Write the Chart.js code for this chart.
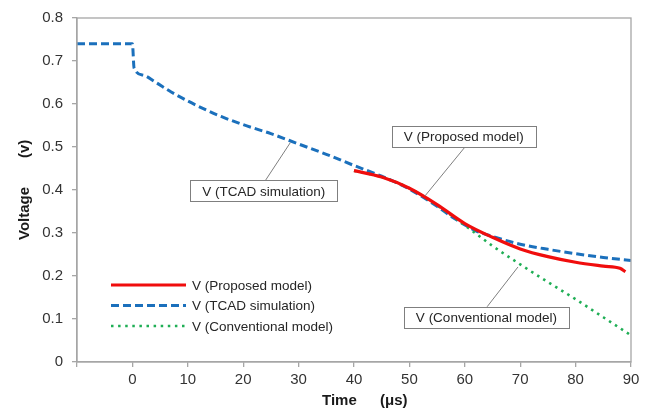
<!DOCTYPE html>
<html>
<head>
<meta charset="utf-8">
<script src="https://cdn.jsdelivr.net/npm/chart.js@4/dist/chart.umd.min.js"></script>
<style>
  html, body { margin: 0; padding: 0; background: #fff; }
  #wrap { width: 656px; height: 412px; }
</style>
</head>
<body>
<div id="wrap"><canvas id="myChart" width="656" height="412"></canvas></div>
<script>
// values
const timeProposed = [40, 45, 50, 55, 60, 65, 70, 75, 80, 85, 88, 89];
const vProposed    = [0.445, 0.430, 0.404, 0.366, 0.322, 0.290, 0.263, 0.245, 0.232, 0.223, 0.218, 0.210];

const timeTcad = [-10, 0, 0.3, 2, 4, 7, 10, 13, 16, 20, 25, 30, 35, 40, 45, 50, 55, 58, 62, 65, 70, 75, 80, 85, 90];
const vTcad    = [0.740, 0.740, 0.684, 0.667, 0.652, 0.628, 0.607, 0.588, 0.571, 0.552, 0.531, 0.507, 0.483, 0.457, 0.432, 0.402, 0.362, 0.335, 0.305, 0.292, 0.274, 0.262, 0.252, 0.243, 0.236];

const timeConv = [40, 45, 50, 55, 60, 65, 70, 75, 80, 85, 90];
const vConv    = [0.445, 0.430, 0.404, 0.364, 0.318, 0.270, 0.227, 0.186, 0.146, 0.104, 0.062];

const xTickValues = [-10, 0, 10, 20, 30, 40, 50, 60, 70, 80, 90];
const xTickLabels = ['', '0', '10', '20', '30', '40', '50', '60', '70', '80', '90'];
const yTickLabels = ['0', '0.1', '0.2', '0.3', '0.4', '0.5', '0.6', '0.7', '0.8'];

const seriesNames = ['V (Proposed model)', 'V (TCAD simulation)', 'V (Conventional model)'];

// callout boxes: centre of box, start and end of leader, in data units
const callouts = [
	{ text: 'V (Proposed model)', cx: 59.8, cy: 0.524, fx: 60.1, fy: 0.501, tx: 52.8, ty: 0.386 },
	{ text: 'V (TCAD simulation)', cx: 23.7, cy: 0.398, fx: 24.0, fy: 0.422, tx: 28.5, ty: 0.510 },
	{ text: 'V (Conventional model)', cx: 63.9, cy: 0.104, fx: 64.0, fy: 0.128, tx: 69.6, ty: 0.221 }
];

const FONT = '"Liberation Sans", Arial, sans-serif';
const axisGray = '#a6a6a6';

function pts(xs, ys) {
	return xs.map((x, i) => ({ x: x, y: ys[i] }));
}

const extras = {
	id: 'extras',
	afterDatasetsDraw(chart) {
		const ctx = chart.ctx;
		const a = chart.chartArea;
		const xs = chart.scales.x, ys = chart.scales.y;

		// box round the plot
		ctx.save();
		ctx.strokeStyle = axisGray;
		ctx.lineWidth = 1.3;
		ctx.strokeRect(a.left, a.top, a.right - a.left, a.bottom - a.top);
		ctx.restore();

		// callouts
		ctx.save();
		ctx.font = '13.5px ' + FONT;
		ctx.textAlign = 'center';
		ctx.textBaseline = 'middle';
		callouts.forEach(c => {
			const bx = xs.getPixelForValue(c.cx), by = ys.getPixelForValue(c.cy);
			ctx.strokeStyle = '#7f7f7f';
			ctx.lineWidth = 1;
			ctx.beginPath();
			ctx.moveTo(xs.getPixelForValue(c.fx), ys.getPixelForValue(c.fy));
			ctx.lineTo(xs.getPixelForValue(c.tx), ys.getPixelForValue(c.ty));
			ctx.stroke();
			const w = ctx.measureText(c.text).width + 24, h = 21;
			ctx.fillStyle = '#fff';
			ctx.fillRect(bx - w / 2, by - h / 2, w, h);
			ctx.strokeRect(Math.round(bx - w / 2) + 0.5, Math.round(by - h / 2) + 0.5, Math.round(w), h);
			ctx.fillStyle = '#262626';
			ctx.fillText(c.text, bx, by + 1);
		});
		ctx.restore();

		// legend
		ctx.save();
		ctx.font = '13.5px ' + FONT;
		ctx.textBaseline = 'middle';
		chart.data.datasets.forEach((ds, i) => {
			const y = a.bottom - 77 + i * 20.5;
			const x0 = a.left + 34;
			ctx.strokeStyle = ds.borderColor;
			ctx.lineWidth = ds.borderWidth;
			ctx.setLineDash(ds.borderDash || []);
			ctx.beginPath();
			ctx.moveTo(x0, y);
			ctx.lineTo(x0 + 75, y);
			ctx.stroke();
			ctx.setLineDash([]);
			ctx.fillStyle = '#262626';
			ctx.fillText(ds.label, x0 + 81, y + 1);
		});
		ctx.restore();

		// axis titles
		ctx.save();
		ctx.fillStyle = '#1a1a1a';
		ctx.font = 'bold 15px ' + FONT;
		ctx.textBaseline = 'middle';
		ctx.textAlign = 'left';
		ctx.fillText('Time', 322, 401);
		ctx.fillText('(\u03bcs)', 380, 401);
		ctx.translate(25, 0);
		ctx.rotate(-Math.PI / 2);
		ctx.fillText('Voltage', -240, 0);
		ctx.fillText('(v)', -158, 0);
		ctx.restore();
	}
};

const ctx = document.getElementById('myChart').getContext('2d');
const myChart = new Chart(ctx, {
	type: 'line',
	data: {
		datasets: [{
			label: seriesNames[0],
			data: pts(timeProposed, vProposed),
			borderColor: '#f00d0d',
			borderWidth: 3.2,
			cubicInterpolationMode: 'monotone',
			order: 0
		}, {
			label: seriesNames[1],
			data: pts(timeTcad, vTcad),
			borderColor: '#1b70bc',
			borderWidth: 3,
			borderDash: [8, 4],
			cubicInterpolationMode: 'monotone',
			order: 2
		}, {
			label: seriesNames[2],
			data: pts(timeConv, vConv),
			borderColor: '#1fae55',
			borderWidth: 2.6,
			borderDash: [2.5, 4.6],
			cubicInterpolationMode: 'monotone',
			order: 1
		}]
	},
	options: {
		responsive: false,
		animation: false,
		elements: { point: { radius: 0 } },
		layout: { padding: { left: 0, top: 11, right: 25, bottom: 0 } },
		plugins: {
			legend: { display: false },
			tooltip: { enabled: false }
		},
		scales: {
			x: {
				type: 'linear',
				min: -10,
				max: 90,
				afterBuildTicks: s => { s.ticks = xTickValues.map(v => ({ value: v })); },
				afterFit: s => { s.height = 50; },
				border: { color: axisGray, width: 1.3 },
				grid: { drawOnChartArea: false, drawTicks: true, tickLength: 5, color: axisGray, lineWidth: 1.3 },
				ticks: {
					autoSkip: false,
					maxRotation: 0,
					padding: 4,
					color: '#333',
					font: { family: FONT, size: 15 },
					callback: (v, i) => xTickLabels[i]
				}
			},
			y: {
				min: 0,
				max: 0.8,
				ticks: {
					stepSize: 0.1,
					padding: 9,
					color: '#333',
					font: { family: FONT, size: 15 },
					callback: (v, i) => yTickLabels[i]
				},
				afterFit: s => { s.width = 77; },
				border: { color: axisGray, width: 1.3 },
				grid: { drawOnChartArea: false, drawTicks: true, tickLength: 5, color: axisGray, lineWidth: 1.3 }
			}
		}
	},
	plugins: [extras]
});
</script>
</body>
</html>
